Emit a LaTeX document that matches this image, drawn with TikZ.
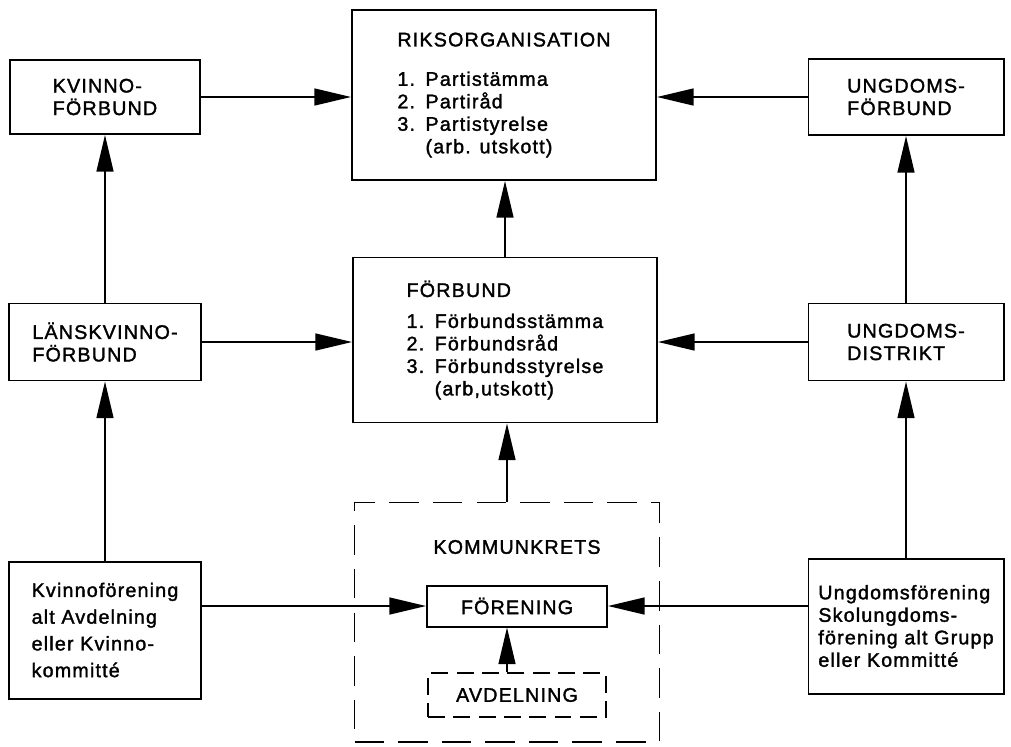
\documentclass[tikz,border=0pt]{standalone}
\usepackage{fontspec}
\setmainfont{Liberation Sans}[LetterSpace=6,FakeBold=1.6]
\usetikzlibrary{arrows.meta,calc,positioning}

\tikzset{
  box/.style 2 args={draw,line width=1.4pt,align=left,inner sep=0pt,
    minimum width=#1*0.025cm,minimum height=#2*0.025cm},
  arr/.style={-{Triangle[length=26pt,width=12pt]},line width=1.2pt},
}
\newcommand{\itm}[2]{\makebox[20pt][l]{#1}#2}

\begin{document}
\begin{tikzpicture}[x=0.025cm,y=-0.025cm,
    font=\fontsize{14}{16}\selectfont]
  \useasboundingbox (0,0) rectangle (1011,746);
  % top row
  \node[box={304}{170}] (riks) at (504,95) {RIKSORGANISATION\\[12pt]
    \itm{1.}{Partistämma}\\ \itm{2.}{Partiråd}\\ \itm{3.}{Partistyrelse}\\ \itm{}{(arb. utskott)}};
  \node[box={190}{74}] (kvf) at (105,97) {KVINNO-\\FÖRBUND};
  \node[box={195}{76}] (ungf) at (906,97) {UNGDOMS-\\FÖRBUND};
  % middle row
  \node[box={304}{165}] (forb) at (505,340) {FÖRBUND\\[6pt]
    \itm{1.}{Förbundsstämma}\\ \itm{2.}{Förbundsråd}\\ \itm{3.}{Förbundsstyrelse}\\ \itm{}{(arb,utskott)}};
  \node[box={192}{77}] (lkf) at (105,342) {LÄNSKVINNO-\\FÖRBUND};
  \node[box={195}{77}] (ungd) at (906,342) {UNGDOMS-\\DISTRIKT};
  % bottom row
  \node[box={192}{137},font=\fontsize{14}{19}\selectfont] (kvfor) at (105,630)
    {Kvinnoförening\\alt Avdelning\\eller Kvinno-\\kommitté};
  \node[box={195}{135}] (ungfor) at (906,626)
    {Ungdomsförening\\Skolungdoms-\\förening alt Grupp\\eller Kommitté};
  \node[box={305}{239},dash pattern=on 21pt off 10pt] (kk) at (507,622) {};
  \node (kktxt) at (517,547) {KOMMUNKRETS};
  \node[box={180}{41}] (fore) at (517,606) {FÖRENING};
  \node[box={178}{44},dash pattern=on 12pt off 6pt] (avd) at (517,695) {AVDELNING};

  % connectors
  \foreach \a/\b in {lkf/kvf,kvfor/lkf,ungd/ungf,ungfor/ungd,forb/riks,kk/forb}
    \draw[arr] (\a.north) -- (\a.north |- \b.south);
  \draw[arr] (kvf.east) -- (kvf.east -| riks.west);
  \draw[arr] (ungf.west) -- (ungf.west -| riks.east);
  \draw[arr] (lkf.east) -- (lkf.east -| forb.west);
  \draw[arr] (ungd.west) -- (ungd.west -| forb.east);
  \draw[arr] (kvfor.east |- fore.west) -- (fore.west);
  \draw[arr] (ungfor.west |- fore.east) -- (fore.east);
  \draw[arr] (kk.north |- avd.north) -- (kk.north |- fore.south);
\end{tikzpicture}
\end{document}
